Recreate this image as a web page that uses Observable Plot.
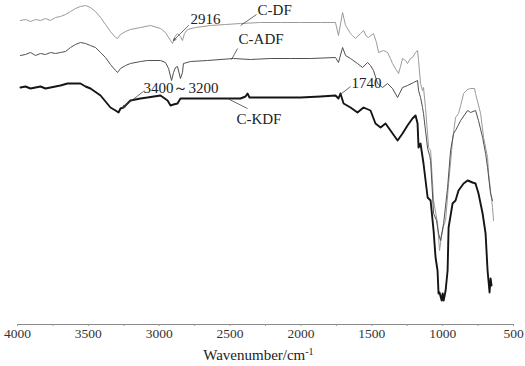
<!DOCTYPE html>
<html><head><meta charset="utf-8">
<script src="https://cdn.jsdelivr.net/npm/d3@7"></script>
<script src="https://cdn.jsdelivr.net/npm/@observablehq/plot@0.6"></script>
<style>
body{margin:0;background:#fff}
svg{display:block}
#chart svg, #chart svg text{font-family:"Liberation Serif","Times New Roman",serif !important}
</style>
</head><body><div id="chart"></div>
<script>
// FTIR spectra: [wavenumber (cm-1), transmittance (a.u.)]
const cDF = [
[3979,310],[3944,311],[3908,309],[3873,311],[3838,310],[3802,312],[3767,310],[3732,313],[3697,314],[3661,316],[3626,319],[3591,322],[3556,324],[3520,325],[3485,323],[3450,319],[3414,313],[3379,306],[3344,299],[3308,293],[3294,292],[3273,296],[3238,299],[3203,301],[3132,303],[3061,305],[2991,302],[2956,298],[2920,290],[2906,287],[2892,293],[2871,297],[2850,294],[2836,290],[2822,297],[2800,301],[2744,303],[2638,305],[2532,306],[2426,307],[2285,308],[2144,308],[2003,308],[1862,308],[1756,308],[1735,295],[1706,318],[1685,305],[1650,297],[1636,295],[1615,292],[1579,297],[1558,300],[1537,294],[1523,293],[1488,297],[1467,288],[1452,278],[1417,280],[1389,278],[1368,272],[1354,267],[1333,262],[1311,257],[1297,264],[1283,272],[1262,270],[1248,267],[1227,272],[1213,273],[1191,278],[1177,280],[1170,270],[1156,247],[1142,240],[1135,243],[1121,223],[1099,183],[1085,180],[1064,130],[1036,107],[1022,80],[1007,95],[993,105],[979,110],[958,147],[930,190],[909,213],[888,217],[873,225],[852,237],[824,241],[803,242],[775,242],[768,237],[732,217],[711,193],[683,173],[676,157],[662,140],[648,123],[641,110]
];
const cADF = [
[3979,275],[3944,276],[3908,278],[3873,275],[3838,277],[3802,276],[3767,278],[3732,277],[3697,278],[3661,279],[3626,283],[3591,286],[3556,288],[3520,287],[3485,285],[3450,283],[3414,278],[3379,273],[3344,266],[3308,260],[3294,258],[3273,262],[3238,265],[3203,267],[3132,269],[3083,270],[2991,270],[2956,268],[2934,262],[2913,250],[2899,258],[2885,263],[2871,264],[2850,252],[2836,258],[2829,267],[2779,269],[2659,270],[2476,272],[2356,271],[2215,272],[2073,272],[1932,272],[1756,273],[1735,268],[1706,283],[1685,275],[1650,272],[1601,267],[1565,263],[1530,268],[1509,265],[1488,260],[1459,247],[1424,243],[1389,247],[1354,242],[1318,233],[1283,243],[1248,245],[1205,248],[1177,250],[1170,240],[1156,233],[1142,223],[1135,217],[1106,182],[1092,175],[1085,170],[1064,117],[1043,110],[1029,97],[1015,90],[993,107],[965,143],[944,180],[923,197],[909,200],[873,210],[824,220],[803,218],[768,220],[747,210],[718,193],[697,177],[683,163],[662,137],[648,130]
];
const cKDF = [
[3979,243],[3944,244],[3908,242],[3873,243],[3838,244],[3802,242],[3767,243],[3732,244],[3697,245],[3647,247],[3591,247],[3556,247],[3520,244],[3485,242],[3414,235],[3344,223],[3308,220],[3287,218],[3273,222],[3252,223],[3203,230],[3132,232],[3083,233],[2991,235],[2941,230],[2920,225],[2899,226],[2871,227],[2850,232],[2800,232],[2709,232],[2567,232],[2426,232],[2391,234],[2377,237],[2363,233],[2285,233],[2144,233],[2003,233],[1862,234],[1756,235],[1735,232],[1721,237],[1699,227],[1650,223],[1601,218],[1558,223],[1509,220],[1474,207],[1438,203],[1403,207],[1368,200],[1318,190],[1283,197],[1248,205],[1213,212],[1191,215],[1177,207],[1170,183],[1156,187],[1135,167],[1106,133],[1085,130],[1064,100],[1050,73],[1036,60],[1029,37],[1022,38],[1007,30],[1000,37],[993,30],[979,40],[965,60],[958,103],[930,127],[909,130],[888,140],[852,147],[824,150],[789,148],[768,147],[747,137],[718,117],[697,97],[683,60],[669,38],[662,52],[655,45]
];

const majorTicks = [4000, 3500, 3000, 2500, 2000, 1500, 1000, 500];
const minorTicks = d3.range(4000, 499, -250);

// annotations
const labelText = ["C-DF", "C-ADF", "C-KDF", "2916", "3400\uFF5E3200", "1740"];
const labelWn   = [2306, 2440, 2455, 2779, 3111, 1643];
const labelT    = [320, 291, 211, 311, 242, 247];

// plain leader lines [wn1, t1, wn2, t2]
const leaders = [[2313,316,2426,305],[2447,282,2490,271],[2518,232,2377,222],[1650,244,1721,236]];
// arrows pointing at bands
const arrows = [[2793,305,2899,290],[3111,239,3259,223]];

const xTitle = "Wavenumber/cm-1";
const xTitleWn = 2300;

const rows = (arr) => arr.map(([wn, t]) => ({wn, t}));
const labels = labelText.map((text, i) => ({text, wn: labelWn[i], t: labelT[i]}));
const seg = (arr) => arr.map(([x1, y1, x2, y2]) => ({x1, y1, x2, y2}));

const serif = "Liberation Serif";

const chart = Plot.plot({
  width: 525, height: 366,
  marginLeft: 17, marginRight: 12, marginTop: 0, marginBottom: 42,
  style: {background: "white", color: "#222", overflow: "visible"},
  x: {domain: [4000, 500]},
  y: {domain: [6, 330], axis: null},
  marks: [
    Plot.frame({anchor: "bottom", stroke: "#8a8a8a"}),
    Plot.axisX({ticks: minorTicks, tickSize: 2, text: null, label: null, stroke: "#999"}),
    Plot.axisX({ticks: majorTicks, tickSize: 0, tickPadding: 4, tickFormat: "d", fontSize: 13.5, fontFamily: serif, label: null, fill: "#333"}),
    Plot.line(rows(cDF), {x: "wn", y: "t", stroke: "#9a9a9a", strokeWidth: 1}),
    Plot.line(rows(cADF), {x: "wn", y: "t", stroke: "#505050", strokeWidth: 1}),
    Plot.line(rows(cKDF), {x: "wn", y: "t", stroke: "#151515", strokeWidth: 1.9}),
    Plot.link(seg(leaders), {x1: "x1", y1: "y1", x2: "x2", y2: "y2", stroke: "#444", strokeWidth: 0.8}),
    Plot.arrow(seg(arrows), {x1: "x1", y1: "y1", x2: "x2", y2: "y2", stroke: "#444", strokeWidth: 0.8, headLength: 5, headAngle: 50}),
    Plot.text(labels, {x: "wn", y: "t", text: "text", textAnchor: "start", fontSize: 15, fontFamily: serif, fill: "#222"}),
    Plot.text([{text: xTitle, wn: xTitleWn}], {x: "wn", text: "text", frameAnchor: "bottom", dy: 35, fontSize: 15, fontFamily: serif, fill: "#222"})
  ]
});

// render the "-1" of the axis title as a superscript
d3.select(chart).selectAll("text").each(function() {
  if (this.textContent === xTitle) {
    const t = d3.select(this);
    t.text("Wavenumber/cm");
    t.append("tspan").attr("font-size", "10px").attr("dy", "-0.5em").text("-1");
  }
});

document.getElementById("chart").appendChild(chart);
</script>
</body></html>
